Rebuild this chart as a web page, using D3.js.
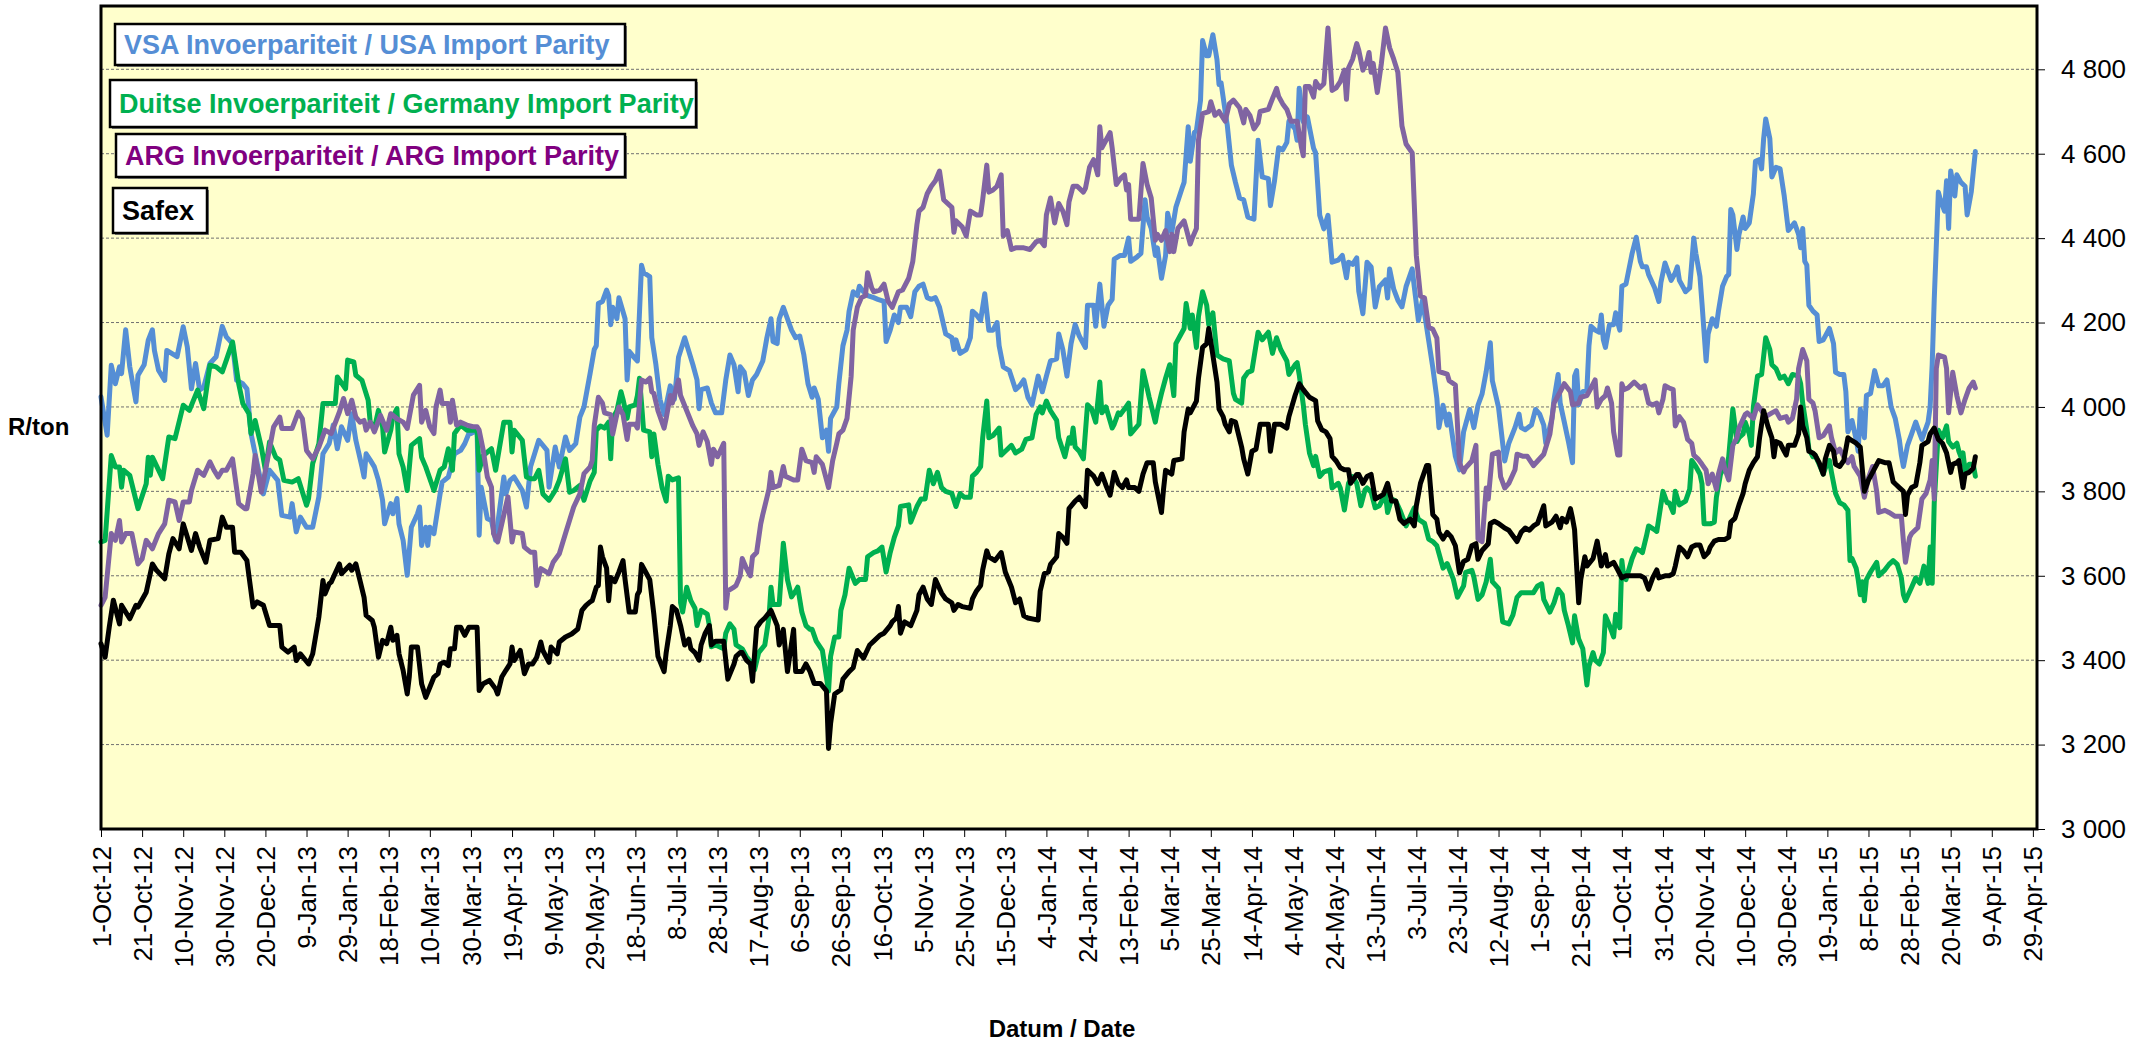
<!DOCTYPE html>
<html>
<head>
<meta charset="utf-8">
<script src="https://cdn.jsdelivr.net/npm/d3@7"></script>
<style>
body { margin: 0; background: #fff; }
text { font-family: "Liberation Sans", Arial, sans-serif; }
</style>
</head>
<body>
<div id="chart"></div>
<script>
var width = 2149
var height = 1043
var plot = {left: 101, top: 6, right: 2037, bottom: 829}

var startDate = new Date(Date.UTC(2012, 9, 1))
var endDate = new Date(Date.UTC(2015, 4, 1))

// each point: [days since 1-Oct-12, R/ton]
var usaParity = [[0,4024],[3,3933],[5,4099],[7,4055],[9,4095],[10,4079],[12,4183],[14,4095],[17,4012],[18,4075],[21,4100],[23,4158],[25,4183],[26,4134],[28,4087],[31,4063],[32,4134],[37,4119],[40,4190],[42,4142],[44,4043],[46,4103],[48,4040],[50,4047],[53,4103],[56,4119],[59,4191],[61,4166],[64,4150],[66,4063],[69,4055],[71,4043],[73,3937],[75,3889],[77,3842],[79,3794],[82,3850],[86,3826],[88,3743],[92,3739],[93,3771],[95,3704],[97,3739],[100,3715],[103,3715],[106,3787],[108,3889],[111,3913],[113,3957],[115,3901],[117,3953],[120,3921],
  [122,3984],[124,3921],[127,3858],[128,3834],[129,3889],[131,3874],[133,3858],[135,3826],[137,3779],[138,3723],[141,3771],[142,3747],[144,3783],[145,3723],[147,3684],[149,3601],[151,3715],[154,3747],[155,3763],[156,3672],[158,3715],[159,3672],[160,3715],[162,3700],[165,3794],[166,3822],[169,3834],[172,3889],[175,3897],[177,3913],[179,3937],[180,3937],[183,3945],[184,3696],[185,3810],[188,3735],[190,3731],[192,3684],[196,3834],[197,3794],[199,3826],[201,3834],[205,3802],[207,3763],[209,3858],[213,3921],[217,3897],[218,3810],[221,3905],[223,3858],[226,3929],[228,3897],[231,3913],[233,3976],[235,4000],[238,4080],
  [240,4136],[241,4145],[242,4245],[244,4250],[246,4277],[247,4264],[248,4195],[249,4236],[251,4209],[252,4259],[255,4209],[256,4064],[257,4132],[260,4114],[261,4109],[263,4336],[264,4318],[267,4309],[268,4164],[270,4100],[272,4018],[274,3982],[276,4027],[277,4050],[279,4018],[281,4118],[284,4164],[286,4132],[288,4100],[290,4064],[291,3996],[292,4041],[295,4045],[297,4009],[299,3986],[302,3986],[304,4064],[306,4123],[308,4100],[310,4036],[311,4095],[313,4082],[315,4027],[317,4064],[319,4077],[322,4109],[324,4164],[326,4209],[327,4155],[329,4150],[330,4209],[332,4236],[334,4209],[336,4182],[338,4164],[340,4168],[342,4123],[344,4055],[346,4023],[347,4045],[349,4018],
  [351,3927],[353,3945],[354,3895],[355,3973],[358,4000],[359,4055],[361,4145],[363,4182],[364,4227],[366,4273],[368,4264],[369,4286],[371,4273],[373,4264],[376,4259],[378,4255],[381,4250],[382,4155],[384,4182],[386,4218],[388,4200],[389,4236],[392,4236],[394,4214],[396,4273],[398,4286],[400,4291],[402,4259],[404,4255],[406,4259],[408,4236],[411,4173],[414,4164],[415,4136],[416,4159],[418,4127],[421,4136],[423,4164],[424,4227],[426,4218],[428,4205],[430,4268],[432,4182],[434,4182],[436,4200],[437,4145],[439,4095],[442,4086],[445,4041],[447,4050],[449,4064],[451,4023],[453,4005],[455,4050],[456,4073],[458,4036],[460,4073],[462,4109],[465,4114],[466,4173],[468,4136],[470,4073],
  [472,4150],[474,4195],[476,4168],[479,4141],[480,4241],[483,4241],[484,4191],[486,4291],[488,4191],[490,4241],[492,4255],[493,4350],[496,4359],[498,4359],[500,4400],[501,4345],[504,4355],[506,4364],[508,4491],[509,4450],[511,4423],[513,4359],[514,4377],[516,4305],[518,4359],[519,4459],[521,4414],[523,4473],[526,4518],[527,4532],[529,4664],[530,4582],[532,4650],[533,4655],[535,4727],[536,4868],[538,4832],[539,4832],[541,4882],[543,4823],[544,4764],[545,4768],[547,4700],[548,4668],[550,4573],[552,4532],[554,4495],[556,4491],[558,4450],[561,4445],[563,4632],[565,4545],[568,4541],[569,4477],[571,4536],[573,4614],[575,4609],[577,4627],[578,4677],[581,4659],[582,4632],[583,4755],
  [585,4676],[587,4687],[590,4613],[591,4602],[593,4454],[595,4422],[597,4454],[599,4343],[602,4348],[604,4359],[606,4306],[607,4343],[609,4338],[611,4353],[612,4274],[614,4221],[616,4343],[618,4332],[620,4237],[622,4285],[625,4301],[626,4258],[627,4327],[629,4279],[631,4253],[633,4237],[635,4285],[638,4327],[639,4285],[641,4205],[643,4253],[646,4158],[648,4094],[650,4020],[651,3951],[653,4004],[655,3957],[656,3983],[659,3883],[661,3851],[663,3941],[666,3994],[668,3951],[670,4004],[672,4031],[674,4084],[676,4152],[677,4062],[680,3999],[683,3872],[685,3914],[688,3951],[690,3983],[691,3951],[693,3946],[696,3957],[698,3994],[700,3983],[702,3957],[703,3914],
  [706,3973],[707,4018],[709,4077],[710,4009],[712,3964],[714,3918],[716,3868],[717,4073],[718,4086],[719,4005],[721,4036],[723,4041],[724,4145],[725,4191],[727,4182],[729,4177],[730,4218],[731,4159],[732,4141],[734,4195],[736,4195],[737,4223],[738,4200],[739,4182],[740,4286],[742,4291],[745,4364],[747,4402],[749,4345],[750,4332],[752,4332],[753,4314],[756,4282],[758,4250],[759,4295],[761,4341],[762,4327],[764,4300],[766,4318],[767,4332],[768,4300],[770,4282],[771,4273],[773,4282],[775,4400],[776,4364],[778,4309],[779,4245],[781,4109],[782,4173],[784,4209],[786,4191],[787,4227],[789,4286],[791,4309],[792,4314],[793,4468],[794,4455],[796,4373],[797,4409],[799,4450],[800,4423],[802,4436],[804,4505],[805,4582],[807,4586],[808,4564],[809,4636],[810,4682],[812,4636],[813,4545],[815,4568],[817,4564],[819,4500],[821,4418],
  [824,4436],[826,4409],[827,4377],[828,4423],[829,4345],[830,4336],[831,4241],[833,4227],[835,4218],[836,4155],[838,4159],[841,4186],[843,4150],[844,4082],[846,4077],[848,4077],[849,4036],[850,3941],[852,3968],[854,3923],[855,3895],[856,3995],[858,3927],[859,4027],[861,4032],[863,4086],[865,4050],[867,4050],[869,4064],[871,4000],[873,3973],[875,3923],[876,3886],[877,3859],[879,3909],[881,3936],[883,3964],[885,3936],[886,3923],[889,3964],[890,4000],[891,4100],[892,4255],[894,4509],[895,4491],[897,4464],[898,4536],[899,4423],[900,4559],[902,4500],[903,4550],[905,4532],[907,4523],[908,4455],[910,4509],[912,4605]]

var germanyParity = [[0,3680],[2,3684],[5,3885],[7,3858],[9,3858],[10,3810],[11,3850],[14,3838],[18,3759],[22,3818],[23,3881],[24,3838],[25,3881],[30,3830],[33,3929],[36,3925],[40,4004],[43,3992],[47,4040],[50,3996],[53,4099],[56,4095],[59,4083],[61,4111],[64,4154],[67,4055],[69,4008],[72,3984],[73,3937],[75,3968],[78,3905],[80,3850],[82,3917],[85,3881],[87,3874],[89,3826],[93,3822],[96,3830],[100,3767],[101,3783],[103,3866],[106,3913],[108,4008],[114,4008],[115,4071],[119,4043],[120,4111],
  [123,4107],[124,4075],[127,4063],[128,4047],[130,4016],[131,3964],[133,3949],[135,3992],[137,3953],[138,3893],[141,3945],[142,3976],[144,3996],[145,3889],[147,3858],[149,3802],[151,3909],[155,3925],[156,3881],[158,3858],[162,3802],[165,3850],[167,3858],[169,3901],[171,3850],[172,3937],[175,3957],[178,3945],[181,3945],[183,3945],[184,3850],[186,3885],[190,3901],[192,3850],[196,3964],[199,3964],[200,3893],[201,3945],[205,3921],[207,3834],[209,3830],[211,3830],[213,3850],[215,3794],[218,3779],[221,3802],[223,3826],[226,3877],[228,3798],[230,3802],[233,3814],[235,3779],[238,3825],
  [240,3845],[241,3945],[243,3955],[245,3950],[247,3964],[248,3877],[249,3973],[251,3991],[253,4036],[254,4018],[256,3973],[257,4000],[260,4005],[261,4027],[262,4068],[263,4009],[264,3945],[267,3941],[268,3882],[269,3936],[271,3864],[273,3809],[275,3777],[276,3836],[278,3827],[281,3832],[282,3536],[283,3514],[285,3573],[287,3541],[289,3523],[290,3482],[292,3518],[295,3509],[296,3482],[297,3432],[299,3436],[303,3427],[304,3464],[306,3486],[308,3473],[309,3436],[312,3427],[314,3409],[316,3396],[318,3377],[320,3418],[323,3436],[325,3500],[326,3573],[327,3532],[330,3532],[332,3677],[334,3591],[336,3550],[338,3564],[339,3573],[341,3514],[343,3482],[345,3473],[346,3473],[348,3445],[351,3423],[354,3327],
  [355,3409],[357,3455],[359,3455],[360,3518],[362,3555],[364,3618],[367,3582],[369,3591],[372,3591],[373,3645],[376,3655],[378,3659],[380,3668],[382,3609],[384,3655],[386,3691],[388,3718],[389,3764],[393,3768],[394,3727],[397,3764],[399,3782],[401,3782],[403,3850],[405,3818],[407,3845],[409,3809],[411,3800],[414,3795],[416,3764],[418,3795],[420,3786],[423,3786],[424,3836],[426,3845],[428,3859],[429,3927],[431,4014],[432,3927],[434,3932],[437,3950],[438,3886],[440,3895],[443,3909],[445,3891],[448,3900],[450,3923],[453,3927],[455,3982],[457,4000],[458,3986],[460,4014],[462,3991],[465,3968],[466,3927],[469,3882],[471,3927],
  [472,3914],[473,3950],[474,3905],[476,3895],[478,3877],[480,4005],[482,3995],[484,3964],[486,4059],[487,3986],[489,4000],[492,3950],[493,3959],[495,3986],[496,3982],[498,3995],[500,4009],[501,3936],[505,3959],[507,4086],[509,4045],[510,4023],[513,3964],[514,3991],[516,4032],[518,4068],[520,4100],[522,4027],[523,4150],[525,4168],[527,4186],[528,4245],[530,4186],[531,4218],[533,4141],[534,4214],[536,4273],[538,4241],[539,4195],[541,4223],[543,4123],[546,4114],[549,4109],[551,4032],[552,4018],[555,4009],[556,4068],[558,4082],[560,4086],[563,4177],[565,4159],[568,4177],[570,4127],[572,4164],[574,4136],[577,4109],[578,4077],[581,4100],[582,4105],[583,4077],[585,4005],[586,3959],[588,3891],
  [590,3861],[591,3883],[593,3835],[595,3846],[598,3851],[599,3808],[602,3819],[603,3808],[605,3756],[607,3819],[609,3835],[611,3819],[613,3766],[615,3803],[616,3808],[618,3798],[620,3761],[622,3766],[625,3793],[626,3750],[628,3782],[630,3777],[632,3756],[635,3718],[637,3740],[639,3761],[641,3734],[644,3724],[646,3687],[648,3681],[650,3671],[653,3618],[655,3629],[658,3592],[660,3549],[663,3576],[664,3608],[667,3613],[668,3597],[670,3544],[672,3555],[674,3586],[676,3639],[677,3586],[680,3570],[682,3491],[685,3486],[687,3507],[689,3549],[691,3560],[693,3560],[697,3560],[699,3576],[701,3581],[702,3544],
  [705,3514],[707,3536],[709,3568],[711,3555],[712,3518],[714,3482],[716,3441],[717,3505],[719,3450],[721,3427],[723,3341],[724,3386],[726,3418],[727,3400],[729,3391],[731,3418],[732,3505],[734,3482],[736,3455],[737,3509],[739,3477],[740,3636],[741,3595],[742,3591],[745,3641],[747,3664],[749,3659],[750,3655],[752,3695],[753,3718],[756,3709],[757,3705],[760,3800],[762,3773],[763,3773],[765,3750],[766,3800],[768,3768],[771,3777],[773,3805],[774,3873],[776,3859],[778,3841],[779,3818],[780,3723],[783,3723],[785,3727],[786,3786],[788,3841],[789,3850],[791,3855],[792,3882],[794,3995],[796,3918],[797,3927],[799,3936],[800,3964],[802,3936],[803,3909],[804,4000],[806,4073],[808,4077],[810,4164],[812,4136],[813,4100],[815,4091],[817,4068],[819,4073],[821,4055],
  [823,4077],[826,4073],[827,4055],[828,4009],[830,3945],[831,3900],[833,3882],[834,3886],[836,3864],[838,3841],[839,3855],[841,3873],[842,3845],[844,3795],[846,3773],[848,3768],[850,3755],[851,3636],[852,3641],[854,3618],[855,3591],[856,3555],[857,3586],[858,3541],[859,3591],[861,3609],[864,3632],[865,3600],[868,3614],[870,3627],[872,3636],[874,3627],[876,3595],[877,3555],[878,3541],[881,3573],[883,3595],[885,3582],[887,3623],[889,3582],[890,3668],[891,3582],[892,3773],[894,3945],[896,3927],[898,3955],[899,3918],[901,3905],[903,3914],[904,3895],[905,3882],[906,3891],[907,3850],[909,3864],[911,3864],[912,3836]]

var argParity = [[0,3530],[2,3549],[5,3700],[7,3684],[9,3731],[10,3680],[12,3700],[15,3700],[18,3628],[20,3640],[22,3684],[25,3664],[28,3700],[31,3723],[33,3779],[36,3775],[38,3731],[40,3775],[43,3775],[44,3802],[47,3850],[50,3838],[53,3870],[55,3850],[57,3834],[59,3850],[61,3850],[64,3877],[67,3771],[70,3759],[71,3759],[74,3842],[75,3885],[78,3798],[82,3901],[84,3953],[87,3976],[88,3949],[93,3949],[96,3988],[98,3972],[100,3897],[103,3877],[106,3905],[109,3945],[112,3937],[116,3988],[118,4020],[120,3984],
  [122,4016],[124,3976],[126,3964],[128,3968],[129,3945],[131,3964],[133,3941],[136,3980],[139,3945],[141,3984],[144,3972],[147,3964],[149,3949],[152,4028],[155,4051],[156,3964],[158,3992],[160,3953],[162,3937],[163,4000],[165,4040],[166,4008],[169,4008],[170,3964],[171,4016],[173,3957],[175,3964],[178,3957],[181,3953],[183,3953],[184,3945],[186,3897],[188,3834],[190,3810],[191,3700],[193,3680],[195,3723],[198,3787],[200,3680],[201,3704],[205,3700],[206,3668],[209,3656],[211,3656],[212,3577],[214,3617],[218,3605],[220,3632],[223,3652],[226,3700],[230,3763],[233,3794],[235,3842],[238,3858],
  [239,3873],[240,3955],[242,4023],[244,4009],[245,3986],[248,3982],[249,3936],[251,3982],[252,4000],[254,3982],[256,3923],[257,3959],[260,3959],[261,3950],[263,4064],[265,4059],[267,4068],[268,4036],[269,4032],[271,3991],[274,3950],[275,3973],[277,4027],[278,4009],[281,4064],[282,4027],[285,3991],[288,3955],[290,3936],[291,3909],[293,3941],[295,3918],[297,3864],[298,3900],[300,3882],[303,3914],[304,3523],[305,3564],[308,3573],[309,3577],[311,3600],[312,3641],[314,3618],[316,3600],[317,3645],[319,3655],[321,3723],[322,3745],[325,3805],[326,3845],[327,3809],[330,3814],[332,3859],[333,3836],[337,3827],[339,3827],[341,3900],[343,3873],[346,3868],[347,3845],[348,3882],[351,3864],[354,3809],
  [356,3873],[358,3914],[359,3936],[361,3945],[363,3973],[365,4073],[366,4182],[368,4236],[370,4259],[372,4264],[373,4318],[375,4282],[376,4273],[379,4277],[381,4291],[383,4250],[385,4236],[388,4273],[390,4277],[393,4305],[395,4345],[397,4432],[398,4464],[400,4473],[402,4505],[404,4523],[406,4536],[408,4559],[410,4491],[414,4473],[415,4414],[416,4441],[419,4427],[421,4405],[423,4464],[426,4455],[428,4455],[429,4491],[431,4573],[432,4509],[434,4514],[436,4523],[438,4550],[439,4405],[441,4418],[443,4373],[445,4377],[449,4377],[452,4373],[455,4391],[457,4395],[459,4382],[460,4455],[462,4495],[464,4436],[466,4482],[468,4464],[470,4432],[471,4486],
  [473,4523],[475,4523],[478,4509],[479,4518],[481,4568],[483,4586],[485,4550],[486,4664],[487,4614],[489,4632],[491,4650],[492,4614],[494,4527],[496,4541],[498,4550],[499,4514],[500,4527],[501,4445],[505,4445],[507,4577],[509,4527],[511,4495],[513,4395],[514,4409],[516,4395],[518,4418],[520,4368],[521,4409],[522,4368],[524,4423],[527,4441],[528,4423],[530,4386],[531,4400],[533,4423],[534,4632],[536,4695],[539,4700],[540,4723],[542,4691],[544,4700],[547,4677],[549,4718],[551,4727],[554,4709],[556,4673],[557,4705],[559,4691],[561,4659],[563,4673],[564,4700],[568,4705],[569,4718],[572,4755],[573,4736],[575,4718],[577,4705],[579,4677],[582,4677],[584,4618],[585,4595],[586,4759],[588,4759],
  [590,4734],[591,4771],[593,4756],[595,4766],[597,4898],[599,4750],[601,4756],[603,4771],[605,4798],[606,4729],[607,4803],[609,4824],[611,4861],[612,4845],[614,4798],[616,4819],[617,4840],[618,4793],[619,4814],[621,4745],[623,4814],[625,4898],[627,4851],[629,4824],[631,4793],[633,4666],[635,4623],[638,4602],[640,4359],[642,4263],[644,4258],[646,4189],[648,4184],[650,4163],[651,4084],[655,4078],[656,4062],[659,4052],[661,3867],[663,3846],[664,3856],[667,3872],[669,3909],[670,3687],[672,3681],[674,3808],[675,3782],[677,3888],[680,3893],[681,3835],[683,3808],[685,3819],[688,3851],[689,3888],[692,3883],[694,3883],[697,3861],[699,3872],[702,3888],
  [705,3936],[707,4009],[709,4027],[710,4036],[712,4055],[715,4036],[716,4005],[719,4009],[720,4023],[723,4027],[725,4045],[727,4064],[728,4000],[730,4018],[732,4027],[733,4045],[735,4009],[736,3941],[738,3886],[739,3886],[740,4055],[741,4041],[743,4045],[746,4059],[749,4045],[751,4050],[753,4009],[755,4005],[757,4009],[758,3986],[760,4018],[761,4050],[763,4045],[765,4041],[766,3955],[768,3977],[770,3964],[772,3923],[774,3914],[775,3886],[777,3877],[779,3864],[781,3850],[782,3818],[784,3841],[786,3805],[787,3841],[789,3877],[790,3855],[792,3827],[794,3909],[796,3927],[797,3950],[800,3982],[801,3986],[804,3973],[806,4005],[808,3991],[810,3977],[813,3986],[815,3991],[817,3973],[820,3977],[821,3964],
  [823,3973],[825,4018],[826,4091],[828,4136],[830,4109],[831,4018],[833,4009],[834,3991],[836,3927],[838,3932],[841,3955],[842,3927],[844,3891],[846,3900],[848,3882],[850,3868],[852,3882],[853,3859],[856,3836],[858,3786],[860,3832],[862,3859],[864,3800],[865,3750],[868,3755],[870,3750],[873,3741],[876,3741],[877,3682],[878,3632],[880,3691],[881,3700],[884,3714],[886,3782],[888,3795],[890,3827],[891,3873],[892,3782],[893,4091],[894,4123],[897,4118],[898,4091],[899,3986],[901,4082],[903,4027],[905,3986],[907,4018],[909,4045],[911,4059],[912,4045]]

var safex = [[0,3439],[2,3407],[4,3478],[6,3542],[9,3486],[10,3530],[14,3498],[17,3530],[18,3526],[22,3561],[25,3628],[27,3613],[31,3593],[33,3652],[35,3688],[38,3664],[40,3723],[42,3692],[44,3660],[46,3700],[48,3668],[51,3632],[53,3684],[57,3688],[59,3739],[61,3715],[64,3715],[65,3656],[68,3656],[71,3636],[74,3526],[76,3538],[79,3530],[82,3482],[87,3482],[88,3431],[91,3419],[94,3431],[95,3399],[97,3415],[101,3391],[103,3415],[106,3502],[108,3589],[109,3557],[111,3581],[112,3585],[116,3628],[117,3605],[121,3625],
  [122,3613],[124,3628],[126,3589],[128,3549],[129,3506],[132,3494],[133,3478],[135,3407],[137,3447],[139,3439],[141,3478],[142,3447],[144,3459],[145,3415],[147,3376],[149,3320],[150,3360],[151,3431],[154,3431],[156,3344],[158,3312],[160,3336],[162,3360],[164,3368],[165,3391],[167,3395],[169,3387],[170,3427],[172,3427],[173,3478],[175,3478],[177,3459],[179,3478],[183,3478],[184,3328],[186,3344],[189,3352],[192,3332],[193,3320],[195,3360],[197,3376],[199,3391],[200,3431],[201,3399],[204,3423],[206,3368],[208,3391],[210,3391],[212,3407],[214,3443],[215,3423],[218,3395],[219,3431],[222,3415],[223,3443],[226,3455],[229,3462],[232,3474],[234,3518],[236,3530],[238,3538],
  [239,3541],[241,3573],[242,3577],[243,3668],[244,3645],[246,3618],[247,3541],[248,3596],[250,3586],[252,3609],[254,3636],[255,3591],[257,3514],[260,3514],[261,3555],[262,3564],[263,3627],[265,3609],[267,3591],[269,3509],[271,3409],[274,3373],[275,3418],[277,3482],[278,3527],[280,3518],[282,3482],[284,3436],[286,3450],[287,3427],[289,3418],[291,3400],[292,3436],[294,3464],[296,3482],[297,3436],[299,3445],[303,3445],[305,3355],[308,3391],[309,3409],[311,3418],[312,3418],[314,3400],[316,3391],[317,3350],[319,3477],[321,3491],[323,3500],[326,3518],[329,3482],[330,3436],[332,3473],[334,3373],[337,3473],[338,3373],[341,3373],[343,3391],[345,3373],[347,3345],[350,3345],[353,3327],[354,3191],
  [355,3250],[357,3320],[360,3330],[361,3355],[364,3373],[366,3382],[368,3423],[371,3405],[374,3436],[376,3445],[379,3459],[381,3464],[384,3482],[385,3491],[387,3500],[388,3527],[389,3464],[391,3491],[394,3482],[397,3518],[398,3555],[400,3573],[402,3545],[404,3532],[406,3591],[409,3559],[411,3545],[414,3536],[415,3518],[417,3532],[419,3527],[423,3523],[424,3545],[426,3564],[428,3577],[429,3614],[431,3659],[432,3645],[435,3636],[438,3655],[440,3609],[443,3573],[445,3536],[447,3545],[449,3505],[451,3500],[456,3495],[457,3564],[459,3605],[461,3609],[462,3627],[465,3645],[466,3700],[468,3691],[470,3677],
  [471,3759],[474,3777],[476,3786],[479,3764],[480,3850],[483,3836],[485,3818],[487,3841],[489,3814],[491,3791],[493,3845],[495,3818],[497,3809],[499,3827],[500,3809],[503,3809],[505,3800],[507,3841],[509,3868],[512,3868],[513,3823],[516,3750],[517,3805],[518,3850],[521,3841],[522,3873],[526,3877],[527,3941],[529,3995],[530,3986],[533,4014],[534,4068],[536,4141],[538,4150],[539,4186],[541,4123],[543,4059],[544,3995],[546,3977],[547,3959],[549,3941],[550,3968],[552,3964],[555,3905],[556,3877],[558,3841],[560,3895],[562,3900],[564,3959],[566,3959],[568,3959],[569,3895],[571,3959],[574,3959],[577,3950],[578,3977],[581,4027],[583,4055],[585,4041],[588,4023],
  [591,4015],[592,3967],[594,3946],[596,3941],[598,3925],[599,3883],[601,3872],[603,3856],[605,3851],[607,3851],[608,3819],[611,3840],[612,3840],[614,3819],[616,3835],[618,3840],[620,3782],[622,3787],[624,3793],[626,3819],[628,3777],[630,3777],[632,3734],[634,3724],[637,3734],[639,3718],[640,3766],[642,3819],[645,3861],[646,3861],[648,3745],[650,3734],[651,3703],[653,3687],[655,3703],[657,3692],[659,3671],[661,3607],[663,3634],[665,3639],[667,3671],[669,3676],[670,3639],[672,3660],[675,3676],[676,3724],[678,3729],[680,3724],[683,3713],[685,3708],[689,3681],[691,3703],[693,3713],[695,3708],[697,3718],[699,3724],[702,3766],[703,3718],
  [706,3727],[708,3741],[710,3714],[711,3736],[713,3727],[715,3759],[716,3736],[717,3709],[719,3536],[720,3591],[722,3645],[723,3623],[726,3641],[728,3682],[730,3623],[732,3650],[733,3623],[736,3632],[738,3614],[740,3595],[742,3600],[745,3600],[749,3600],[751,3595],[753,3568],[755,3595],[757,3614],[758,3595],[761,3600],[763,3600],[765,3605],[766,3623],[768,3668],[770,3659],[772,3645],[774,3668],[776,3673],[778,3673],[780,3645],[782,3655],[783,3668],[785,3682],[787,3686],[790,3686],[792,3691],[793,3727],[795,3736],[797,3768],[799,3795],[800,3818],[802,3850],[804,3868],[806,3882],[807,3927],[809,3991],[811,3955],[813,3927],[814,3882],[815,3918],[817,3914],[819,3895],[820,3886],[821,3909],
  [824,3909],[826,3936],[827,4000],[828,3955],[830,3927],[831,3895],[833,3891],[834,3886],[836,3868],[838,3841],[839,3877],[841,3909],[843,3895],[844,3864],[846,3859],[848,3873],[850,3927],[851,3923],[854,3914],[856,3905],[858,3800],[860,3827],[862,3845],[865,3873],[868,3868],[870,3868],[872,3823],[873,3818],[875,3809],[877,3800],[878,3745],[879,3791],[881,3809],[883,3814],[885,3868],[886,3909],[889,3918],[890,3936],[892,3950],[894,3923],[896,3914],[898,3891],[900,3845],[901,3864],[903,3868],[904,3873],[906,3809],[907,3841],[909,3845],[911,3855],[912,3882]]

var yTicks = [3000, 3200, 3400, 3600, 3800, 4000, 4200, 4400, 4600, 4800]
// a date label every 20 days, 1-Oct-12 .. 29-Apr-15
var xTicks = d3.utcDay.range(startDate, new Date(Date.UTC(2015, 3, 30)), 20)

var legendItems = [
    {label: "VSA Invoerpariteit / USA Import Parity", color: "#558ED5", box: [115, 24, 510, 41]},
    {label: "Duitse Invoerpariteit / Germany Import Parity", color: "#00B050", box: [110, 80, 586, 47]},
    {label: "ARG Invoerpariteit / ARG Import Parity", color: "#800080", box: [116, 134, 509, 43]},
    {label: "Safex", color: "#000000", box: [113, 188, 94, 45]}
]

var series = [
    {data: usaParity, color: "#558ED5"},
    {data: germanyParity, color: "#00B050"},
    {data: argParity, color: "#8064A2"},
    {data: safex, color: "#000000"}
]

var svg = d3.select("#chart").append("svg")
    .attr("width", width)
    .attr("height", height)

svg.append("rect").attr("width", width).attr("height", height).attr("fill", "#fff")

var x = d3.scaleUtc().domain([startDate, endDate]).range([plot.left, plot.right])
var y = d3.scaleLinear().domain([3000, 4950]).range([plot.bottom, plot.top])

var spaceFormat = d3.formatLocale({decimal: ".", thousands: " ", grouping: [3], currency: ["", ""]}).format(",")

// plot area
svg.append("rect")
    .attr("x", plot.left).attr("y", plot.top)
    .attr("width", plot.right - plot.left).attr("height", plot.bottom - plot.top)
    .attr("fill", "#FFFFCC")

// gridlines
svg.append("g").selectAll("line")
    .data(yTicks.filter(function(d) { return d > 3000 }))
    .enter().append("line")
    .attr("x1", plot.left).attr("x2", plot.right)
    .attr("y1", function(d) { return y(d) }).attr("y2", function(d) { return y(d) })
    .attr("stroke", "#707070")
    .attr("stroke-width", 1)
    .attr("stroke-dasharray", "3,2")

// lines
var line = d3.line()
    .x(function(d) { return x(d3.utcDay.offset(startDate, d[0])) })
    .y(function(d) { return y(d[1]) })

svg.append("g").selectAll("path")
    .data(series)
    .enter().append("path")
    .attr("d", function(s) { return line(s.data) })
    .attr("fill", "none")
    .attr("stroke", function(s) { return s.color })
    .attr("stroke-width", 5)
    .attr("stroke-linejoin", "round")
    .attr("stroke-linecap", "round")

// border
svg.append("rect")
    .attr("x", plot.left).attr("y", plot.top)
    .attr("width", plot.right - plot.left).attr("height", plot.bottom - plot.top)
    .attr("fill", "none")
    .attr("stroke", "#000")
    .attr("stroke-width", 3)

// x axis
var xAxis = d3.axisBottom(x)
    .tickValues(xTicks)
    .tickFormat(d3.utcFormat("%-d-%b-%y"))
    .tickSizeInner(8)
    .tickSizeOuter(0)

var xg = svg.append("g")
    .attr("transform", "translate(0," + plot.bottom + ")")
    .call(xAxis)
xg.select(".domain").remove()
xg.selectAll(".tick line").attr("stroke", "#000").attr("stroke-width", 1)
xg.selectAll(".tick text")
    .attr("transform", "rotate(-90)")
    .attr("x", -17)
    .attr("y", 0)
    .attr("dy", "0.35em")
    .attr("text-anchor", "end")
    .attr("font-size", "26px")
    .attr("font-family", "Liberation Sans, Arial, sans-serif")
    .attr("fill", "#000")

// y axis on the right
var yAxis = d3.axisRight(y)
    .tickValues(yTicks)
    .tickFormat(spaceFormat)
    .tickSizeInner(8)
    .tickSizeOuter(0)
    .tickPadding(16)

var yg = svg.append("g")
    .attr("transform", "translate(" + plot.right + ",0)")
    .call(yAxis)
yg.select(".domain").remove()
yg.selectAll(".tick line").attr("stroke", "#000").attr("stroke-width", 1)
yg.selectAll(".tick text")
    .attr("font-size", "26px")
    .attr("font-family", "Liberation Sans, Arial, sans-serif")
    .attr("fill", "#000")

// axis titles
svg.append("text")
    .attr("x", 8).attr("y", 435)
    .attr("font-size", "24px").attr("font-weight", "bold")
    .text("R/ton")

svg.append("text")
    .attr("x", 1062).attr("y", 1037)
    .attr("text-anchor", "middle")
    .attr("font-size", "24px").attr("font-weight", "bold")
    .text("Datum / Date")

// legend boxes
var lg = svg.append("g").selectAll("g")
    .data(legendItems)
    .enter().append("g")

lg.append("rect")
    .attr("x", function(d) { return d.box[0] + 2 }).attr("y", function(d) { return d.box[1] + 2 })
    .attr("width", function(d) { return d.box[2] }).attr("height", function(d) { return d.box[3] })
    .attr("fill", "#808080")

lg.append("rect")
    .attr("x", function(d) { return d.box[0] }).attr("y", function(d) { return d.box[1] })
    .attr("width", function(d) { return d.box[2] }).attr("height", function(d) { return d.box[3] })
    .attr("fill", "#fff")
    .attr("stroke", "#000")
    .attr("stroke-width", 2.5)

lg.append("text")
    .attr("x", function(d) { return d.box[0] + 9 })
    .attr("y", function(d) { return d.box[1] + d.box[3] / 2 + 9.5 })
    .attr("font-size", "27px")
    .attr("font-weight", "bold")
    .attr("fill", function(d) { return d.color })
    .text(function(d) { return d.label })
</script>
</body>
</html>
